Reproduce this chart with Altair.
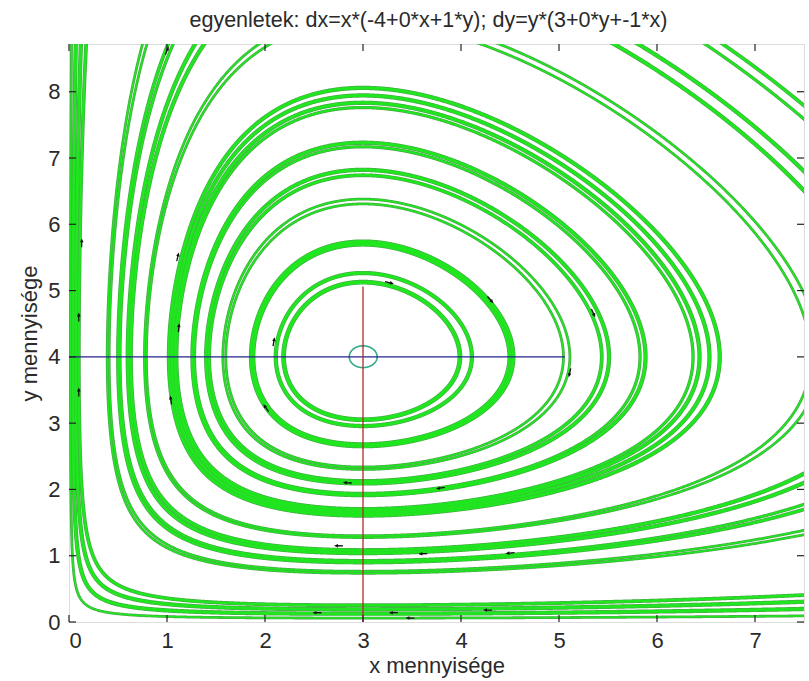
import numpy as np
import pandas as pd
import altair as alt

TITLE = "egyenletek: dx=x*(-4+0*x+1*y); dy=y*(3+0*y+-1*x)"

# model coefficients: dx = x*(A + B*x + C*y), dy = y*(D + E*y + F*x)
A, B, C = -4.0, 0.0, 1.0
D, E, F = 3.0, 0.0, -1.0

X_MAX, Y_MAX = 7.5, 8.72
x_ticks = [0, 1, 2, 3, 4, 5, 6, 7]
y_ticks = [0, 1, 2, 3, 4, 5, 6, 7, 8]

# trajectories, identified by where they cross y = 4 on the left of the centre
orbit_x0 = [0.015, 0.04, 0.07, 0.10,
            0.39, 0.41, 0.50, 0.52, 0.60, 0.63, 0.77, 0.79,
            1.02, 1.05, 1.08, 1.10, 1.26, 1.28, 1.40, 1.43,
            1.57, 1.60, 1.86, 1.88, 2.11, 2.19]
orbit_w = [1.5, 3.0, 3.0, 2.5,
           1.5, 1.5, 2.5, 2.0, 3.0, 3.0, 1.5, 1.5,
           3.0, 3.0, 3.0, 2.0, 3.0, 2.0, 3.0, 2.5,
           1.5, 1.5, 3.5, 3.0, 3.0, 3.5]
# small loop right around the equilibrium
centre_loop_x0 = [2.86]

# small direction markers sitting on the trajectories
arrow_x = [3.27, 4.30, 5.11, 5.35, 0.10, 1.12, 2.09, 0.10, 1.04, 2.01,
           2.84, 3.79, 2.75, 3.61, 4.50, 2.53, 3.31, 3.48, 4.27, 0.13, 1.11, 1.00]
arrow_y = [5.12, 4.86, 3.76, 4.66, 4.60, 4.44, 4.23, 3.47, 3.35, 3.23,
           2.10, 2.02, 1.15, 1.03, 1.04, 0.14, 0.14, 0.06, 0.18, 5.72, 5.51, 8.62]

# guide lines through the equilibrium
hline_x = [0.0, 5.06]
hline_y = [4.0, 4.0]
vline_x = [3.0, 3.0]
vline_y = [0.0, 5.06]

# equilibrium and first integral of the system
xc, yc = -D / F, -A / C
gam = -C / F
delta = -A / F
beta = -gam * D / C

W, H = 735, 578
PX_X, PX_Y = W / X_MAX, H / Y_MAX


def first_integral(x, y):
    return x + beta * np.log(x) + gam * y + delta * np.log(y)


def level_curve(x0, n=3000):
    """Closed trajectory through (x0, yc), traced along rays from the centre."""
    level = first_integral(x0, yc)
    th = np.linspace(0, 2 * np.pi, n, endpoint=False)
    c, s = np.cos(th), np.sin(th)
    with np.errstate(divide="ignore"):
        rx = np.where(c < 0, xc / -c, np.inf)
        ry = np.where(s < 0, yc / -s, np.inf)
    hi = np.minimum(np.minimum(rx, ry), 80.0) * (1 - 1e-12)
    lo = np.zeros_like(hi)
    for _ in range(70):
        mid = 0.5 * (lo + hi)
        above = first_integral(xc + mid * c, yc + mid * s) > level
        hi = np.where(above, mid, hi)
        lo = np.where(above, lo, mid)
    r = 0.5 * (lo + hi)
    return xc + r * c, yc + r * s


def visible_segments(x, y, cid, w):
    inside = (x > -0.1) & (x < X_MAX + 0.15) & (y > -0.1) & (y < Y_MAX + 0.15)
    keep = inside | np.roll(inside, 1) | np.roll(inside, -1)
    if not keep.any():
        return []
    if keep.all():
        idx = np.append(np.arange(len(x)), 0)
        return [pd.DataFrame({"x": x[idx], "y": y[idx], "i": np.arange(len(idx)),
                              "cid": cid, "seg": 0, "w": w})]
    start = int(np.argmin(keep))
    order = np.roll(np.arange(len(x)), -start)
    k = keep[order]
    seg_id = np.cumsum(np.r_[0, (k[1:] & ~k[:-1]).astype(int)])
    sel = order[k]
    return [pd.DataFrame({"x": x[sel], "y": y[sel], "i": np.arange(len(sel)),
                          "cid": cid, "seg": seg_id[k], "w": w})]


frames = []
for j, (x0, w) in enumerate(zip(orbit_x0, orbit_w)):
    xx, yy = level_curve(x0)
    frames += visible_segments(xx, yy, j, w)
orbits = pd.concat(frames, ignore_index=True)
orbits["we"] = orbits["w"] + 1.3

lx, ly = level_curve(centre_loop_x0[0], 400)
loop = visible_segments(lx, ly, 99, 1.6)[0]

# marker heading follows the flow of the system at each marker
ax_, ay_ = np.array(arrow_x), np.array(arrow_y)
vx = ax_ * (A + B * ax_ + C * ay_)
vy = ay_ * (D + E * ay_ + F * ax_)
heading = np.degrees(np.arctan2(vx * PX_X, vy * PX_Y)) % 360
arrows = pd.DataFrame({"x": ax_, "y": ay_, "ang": heading})

hline = pd.DataFrame({"x": hline_x, "y": hline_y})
vline = pd.DataFrame({"x": vline_x, "y": vline_y})
xt = pd.DataFrame({"x": x_ticks})
yt = pd.DataFrame({"y": y_ticks})

FONT = "Liberation Sans"
FS = 22
TXT = "#2a2a2a"

xscale = alt.Scale(domain=[0, X_MAX], nice=False, zero=False)
yscale = alt.Scale(domain=[0, Y_MAX], nice=False, zero=False)
xaxis = alt.Axis(values=x_ticks, title="x mennyisége", domain=False, ticks=False,
                 grid=False, labelFont=FONT, labelFontSize=FS, labelColor=TXT,
                 labelPadding=8, titleFont=FONT, titleFontSize=FS,
                 titleFontWeight="normal", titleColor=TXT, titlePadding=4)
yaxis = alt.Axis(values=y_ticks, title="y mennyisége", domain=False, ticks=False,
                 grid=False, labelFont=FONT, labelFontSize=FS, labelColor=TXT,
                 labelPadding=9, titleFont=FONT, titleFontSize=FS,
                 titleFontWeight="normal", titleColor=TXT, titlePadding=6)


def X():
    return alt.X("x:Q", scale=xscale, axis=xaxis)


def Y():
    return alt.Y("y:Q", scale=yscale, axis=yaxis)


edge = alt.Chart(orbits).mark_line(clip=True, color="#4aa84a", strokeJoin="round").encode(
    x=X(), y=Y(), detail=["cid:N", "seg:N"], order="i:Q",
    strokeWidth=alt.StrokeWidth("we:Q", scale=None),
)
core = alt.Chart(orbits).mark_line(clip=True, color="#1fe61f", strokeJoin="round").encode(
    x=X(), y=Y(), detail=["cid:N", "seg:N"], order="i:Q",
    strokeWidth=alt.StrokeWidth("w:Q", scale=None),
)
loop_line = alt.Chart(loop).mark_line(clip=True, color="#35a98a", strokeWidth=1.6).encode(
    x=X(), y=Y(), order="i:Q"
)
blue = alt.Chart(hline).mark_line(color="#23238f", strokeWidth=1.3).encode(x=X(), y=Y())
red = alt.Chart(vline).mark_line(color="#b02a2a", strokeWidth=1.3).encode(x=X(), y=Y())
flow = alt.Chart(arrows).mark_point(
    shape="arrow", filled=True, color="#111", size=80, opacity=1, clip=True
).encode(x=X(), y=Y(), angle=alt.Angle("ang:Q", scale=None))

TICK = 7
tick_color = "#222"
t_bottom = alt.Chart(xt).mark_rule(color=tick_color, strokeWidth=1.2).encode(
    x=X(), y=alt.value(H), y2=alt.value(H - TICK))
t_top = alt.Chart(xt).mark_rule(color=tick_color, strokeWidth=1.2).encode(
    x=X(), y=alt.value(0), y2=alt.value(TICK))
t_left = alt.Chart(yt).mark_rule(color=tick_color, strokeWidth=1.2).encode(
    y=Y(), x=alt.value(0), x2=alt.value(TICK))
t_right = alt.Chart(yt).mark_rule(color=tick_color, strokeWidth=1.2).encode(
    y=Y(), x=alt.value(W), x2=alt.value(W - TICK))

chart = alt.layer(
    edge, core, loop_line, blue, red, flow, t_bottom, t_top, t_left, t_right
).properties(
    width=W, height=H,
    title=alt.TitleParams(TITLE, font=FONT, fontSize=21.5, fontWeight="normal",
                          color=TXT, anchor="middle", offset=12, dx=-8),
    autosize=alt.AutoSizeParams(type="none"),
    padding={"left": 69, "top": 44, "right": 5, "bottom": 59},
).configure_view(
    stroke="#222", strokeWidth=1.3
).configure(background="white")

chart.save("out.html", embed_options={"renderer": "svg", "actions": False})
